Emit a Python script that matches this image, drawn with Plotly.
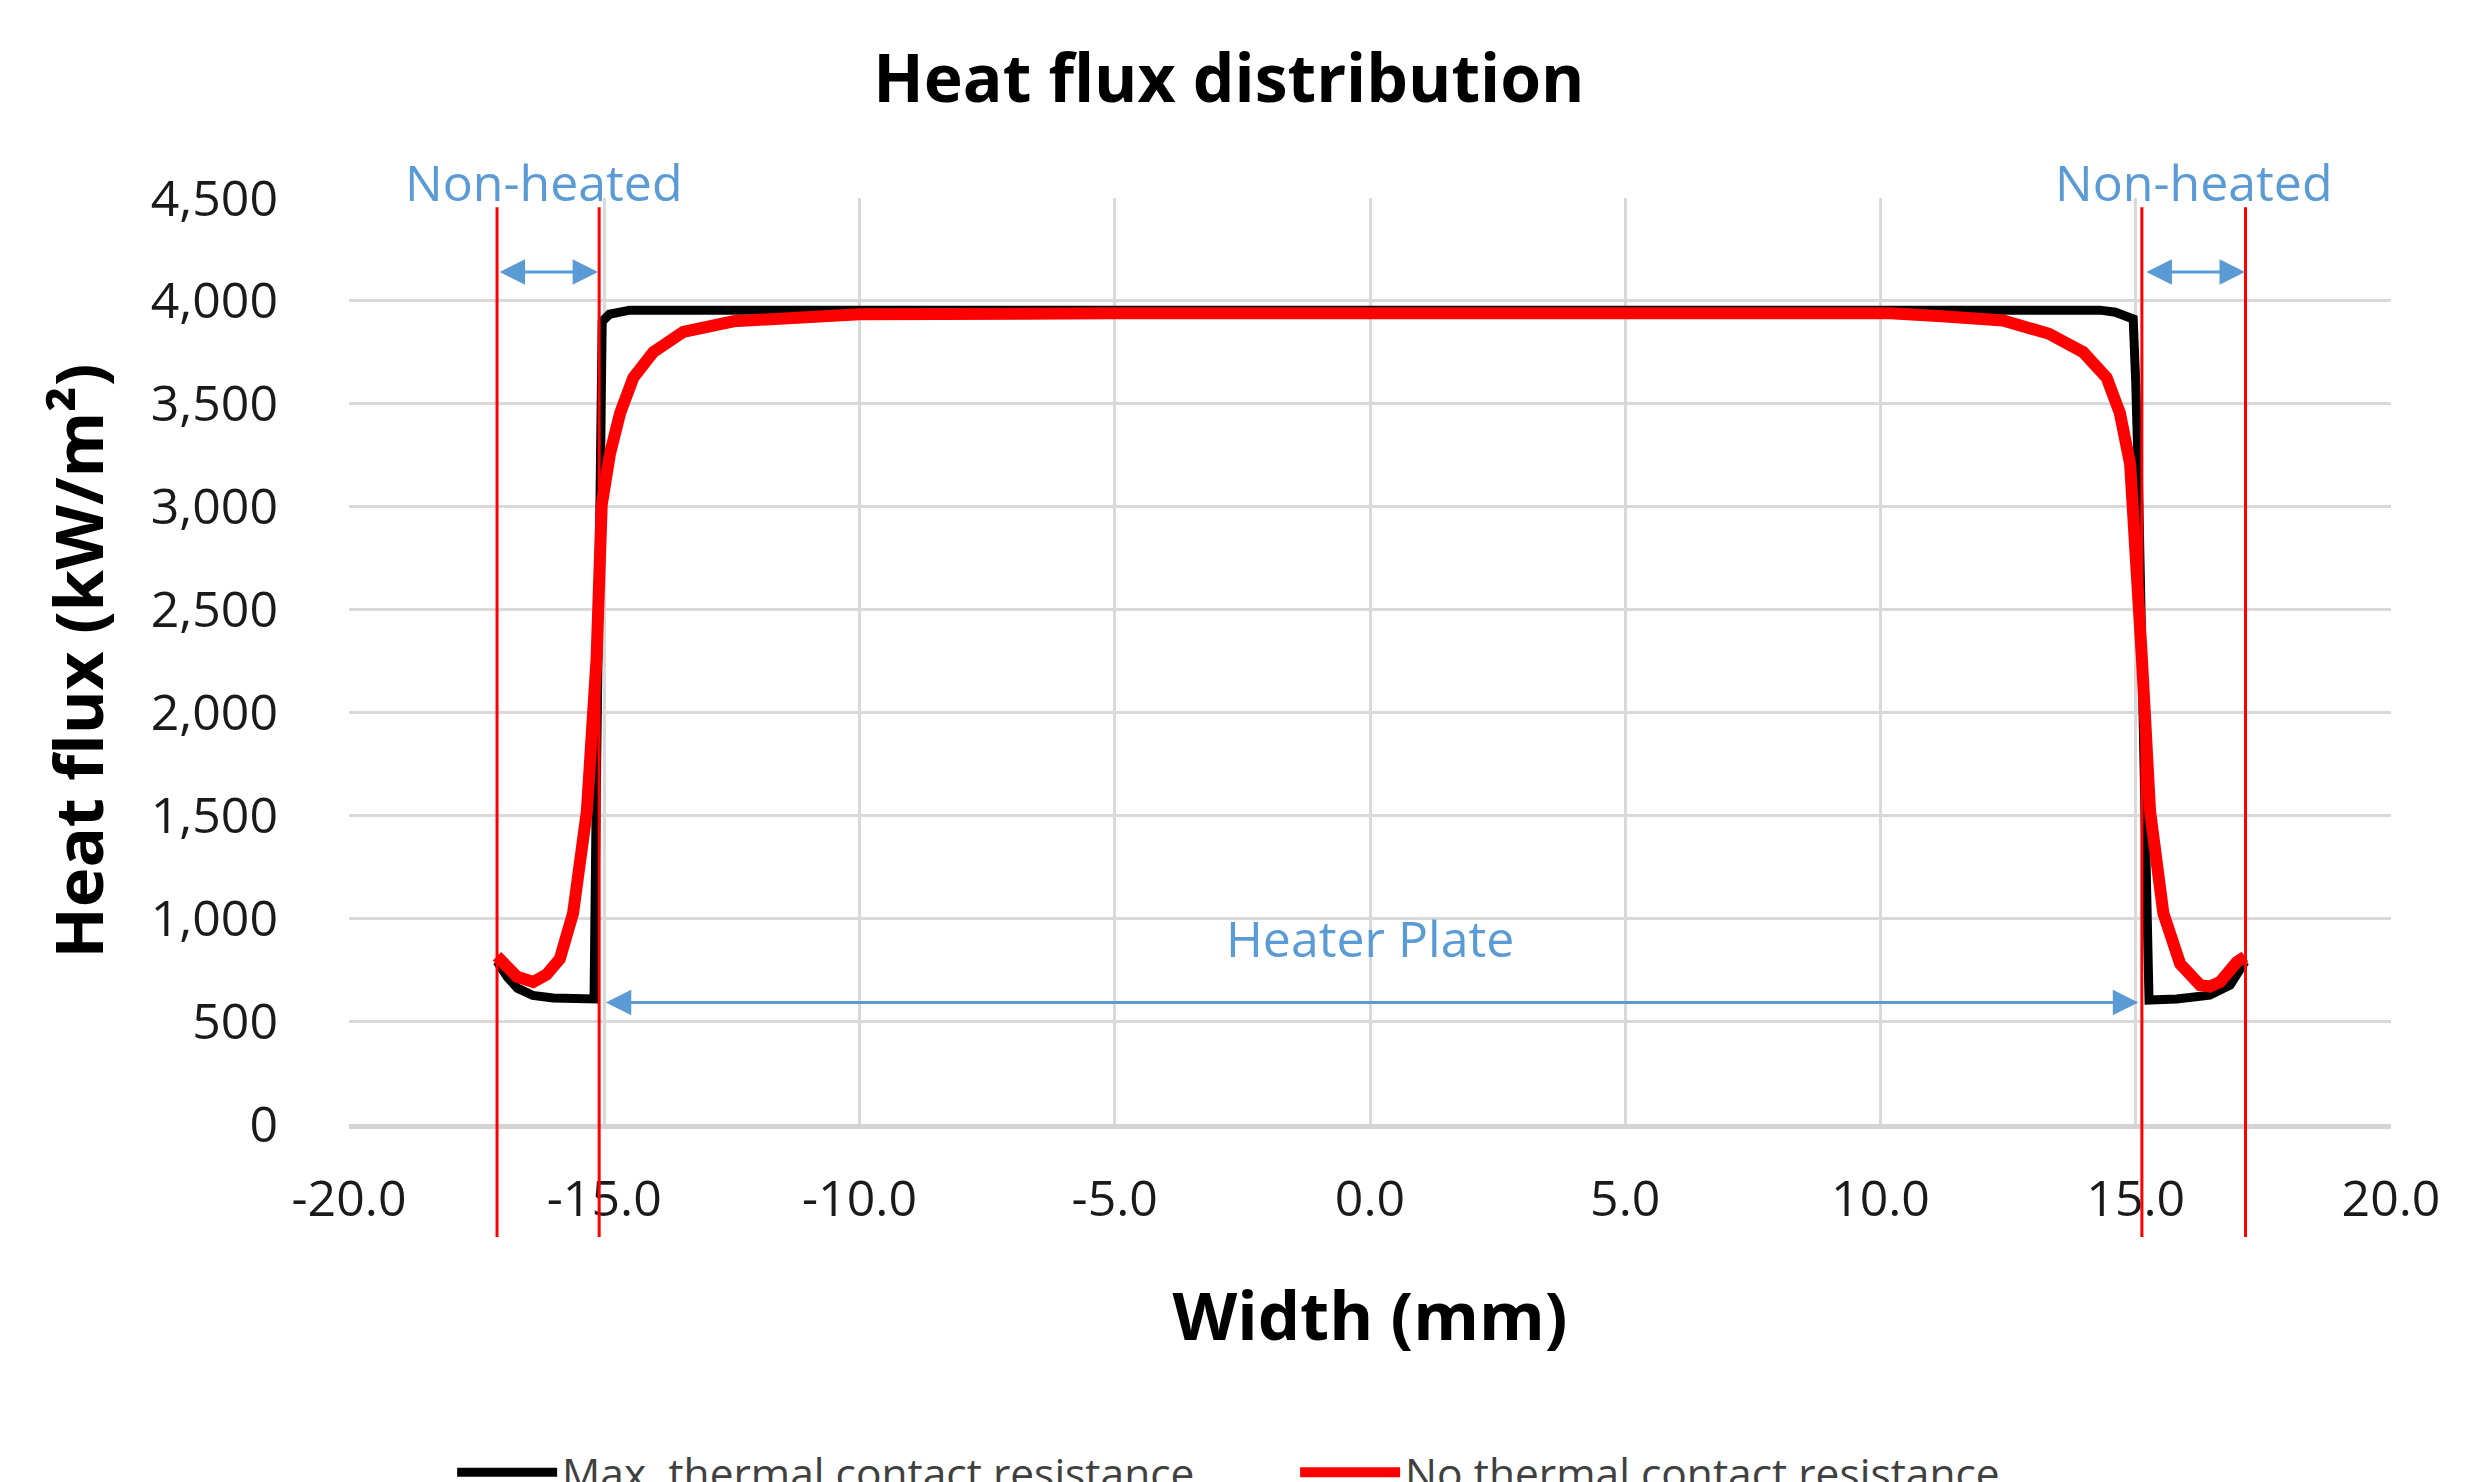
import plotly.graph_objects as go

# ---------------- data ----------------
x_max_tcr = [-17.10, -16.90, -16.70, -16.40, -16.00, -15.60, -15.20, -15.16, -15.08, -15.04,
             -14.90, -14.50, -12.00, -8.00, -5.50, -4.80, 0.00, 5.00, 10.00, 14.30,
             14.60, 14.95, 15.00, 15.05, 15.18, 15.26, 15.80, 16.45, 16.85, 17.14]
y_max_tcr = [790, 715, 660, 625, 612, 610, 608, 1520, 3150, 3900,
             3935, 3955, 3955, 3955, 3958, 3962, 3955, 3955, 3955, 3955,
             3945, 3912, 3600, 3158, 1521, 602, 608, 626, 675, 789]

x_no_tcr = [-17.10, -16.84, -16.71, -16.39, -16.13, -15.87, -15.61, -15.34, -15.15, -15.05,
            -14.89, -14.69, -14.43, -14.04, -13.45, -12.47, -11.17, -10.00, -5.00, 0.00,
            5.00, 10.20, 11.20, 12.40, 13.30, 13.97, 14.43, 14.69, 14.89, 15.02,
            15.12, 15.28, 15.54, 15.87, 16.26, 16.45, 16.65, 16.98, 17.14]
y_no_tcr = [815, 751, 716, 690, 726, 802, 1025, 1521, 2264, 3008,
            3255, 3454, 3627, 3751, 3850, 3901, 3925, 3935, 3940, 3940,
            3940, 3940, 3925, 3905, 3840, 3751, 3627, 3454, 3207, 2760,
            2264, 1521, 1025, 778, 675, 668, 690, 787, 813]

series_names = ["Max. thermal contact resistance", "No thermal contact resistance"]

x_tick_vals = [-20, -15, -10, -5, 0, 5, 10, 15, 20]
x_tick_text = ["-20.0", "-15.0", "-10.0", "-5.0", "0.0", "5.0", "10.0", "15.0", "20.0"]
y_tick_vals = [0, 500, 1000, 1500, 2000, 2500, 3000, 3500, 4000, 4500]
y_tick_text = ["0", "500", "1,000", "1,500", "2,000", "2,500", "3,000", "3,500", "4,000", "4,500"]

# boundaries of the heater plate / non-heated zones (mm)
boundary_x = [-17.10, -15.10, 15.12, 17.15]
# arrows: (start x, end x, y)
arrow_nonheated_left = (-17.08, -15.12, 4140)
arrow_nonheated_right = (15.18, 17.14, 4140)
arrow_heater = (-15.0, 15.05, 590)

BLUE = "#5B9BD5"
FONT = "Open Sans"

fig = go.Figure()
fig.add_trace(go.Scatter(x=x_max_tcr, y=y_max_tcr, mode="lines", name=series_names[0],
                         line=dict(color="#000000", width=9)))
fig.add_trace(go.Scatter(x=x_no_tcr, y=y_no_tcr, mode="lines", name=series_names[1],
                         line=dict(color="#FF0000", width=12)))

for bx in boundary_x:
    fig.add_shape(type="line", xref="x", yref="paper", x0=bx, x1=bx, y0=-0.122, y1=0.99,
                  line=dict(color="#FF0000", width=3), layer="above")

annotations = []
for (xs, xe, ya) in [arrow_nonheated_left, arrow_nonheated_right, arrow_heater]:
    annotations.append(dict(x=xe, y=ya, ax=xs, ay=ya, xref="x", yref="y", axref="x", ayref="y",
                            text="", showarrow=True, arrowside="end+start",
                            arrowhead=2, startarrowhead=2, arrowsize=1.7, startarrowsize=1.7,
                            arrowwidth=3, arrowcolor=BLUE, standoff=0, startstandoff=0))

annotations.append(dict(x=-16.18, y=1.017, xref="x", yref="paper", text="Non-heated",
                        showarrow=False, font=dict(family=FONT, size=50, color=BLUE),
                        xanchor="center", yanchor="middle"))
annotations.append(dict(x=16.14, y=1.017, xref="x", yref="paper", text="Non-heated",
                        showarrow=False, font=dict(family=FONT, size=50, color=BLUE),
                        xanchor="center", yanchor="middle"))
annotations.append(dict(x=0, y=905, xref="x", yref="y", text="Heater Plate",
                        showarrow=False, font=dict(family=FONT, size=50, color=BLUE),
                        xanchor="center", yanchor="middle"))

fig.update_layout(
    width=2486, height=1482,
    paper_bgcolor="white", plot_bgcolor="white",
    margin=dict(l=341, r=103, t=190, b=366, autoexpand=False),
    font=dict(family=FONT, size=50, color="#1a1a1a"),
    title=dict(text="<b>Heat flux distribution</b>", x=0.4911, xref="container", xanchor="center",
               y=1 - 71 / 1482, yref="container", yanchor="middle",
               font=dict(family=FONT, size=66, color="#000000")),
    xaxis=dict(range=[-20, 20], tickvals=x_tick_vals, ticktext=x_tick_text,
               showgrid=True, gridcolor="#d9d9d9", gridwidth=3, zeroline=False,
               showline=True, linecolor="#d4d4d4", linewidth=5,
               ticks="", ticklabelstandoff=27,
               tickfont=dict(family=FONT, size=50, color="#1a1a1a"),
               title=dict(text="<b>Width (mm)</b>", standoff=65,
                          font=dict(family=FONT, size=67, color="#000000"))),
    yaxis=dict(range=[0, 4500], tickvals=y_tick_vals, ticktext=y_tick_text,
               showgrid=True, gridcolor="#d9d9d9", gridwidth=3, zeroline=False,
               showline=False, ticks="", ticklabelstandoff=70,
               tickfont=dict(family=FONT, size=50, color="#1a1a1a"),
               title=dict(text="<b>Heat flux (kW/m²)</b>", standoff=25,
                          font=dict(family=FONT, size=67, color="#000000"))),
    legend=dict(orientation="h", x=0.0505, xanchor="left", y=-0.3766, yanchor="middle",
                font=dict(family=FONT, size=42.5, color="#404040"), itemwidth=100,
                entrywidth=728, entrywidthmode="pixels",
                bgcolor="rgba(0,0,0,0)"),
    annotations=annotations,
)

fig.write_html("out.html")
